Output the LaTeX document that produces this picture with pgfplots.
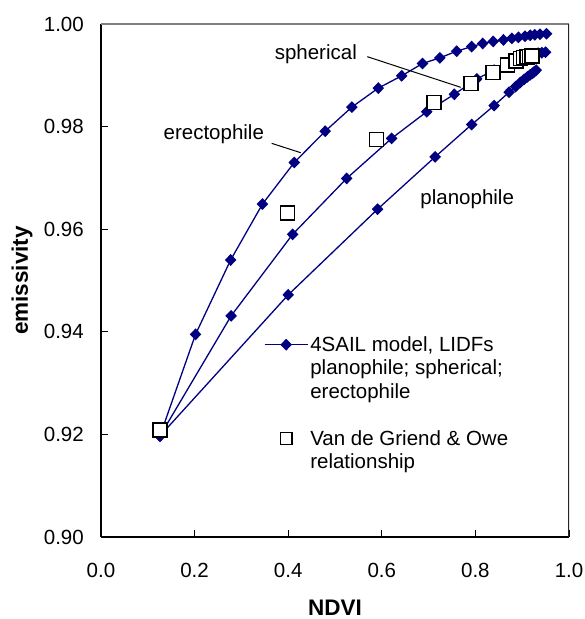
\documentclass[border=0pt]{standalone}
\usepackage{fontspec}
\setmainfont{Liberation Sans}
\usepackage{pgfplots}
\pgfplotsset{compat=1.18}
\definecolor{navy}{RGB}{0,0,128}
\newcommand\fs{\fontsize{20.5}{23.4}\selectfont}
\newcommand\fl{\fontsize{22.5}{27}\selectfont\bfseries}
\pgfplotsset{
  linelegend/.style={legend image code/.code={\draw[mark repeat=2,mark phase=2,##1] plot coordinates {(0pt,0pt) (21.5pt,0pt) (43pt,0pt)};}},
  marklegend/.style={legend image code/.code={\path[draw=none,fill=none] (0pt,0pt) rectangle (43pt,0.1pt); \draw[##1] plot coordinates {(21.5pt,0pt)};}},
  curve/.style={navy, line width=1.3pt, mark=diamond*, mark size=5pt, mark options={xscale=1.3, solid, fill=navy, draw=navy}},
  vdg/.style={only marks, mark=square*, mark size=7pt, mark options={fill=white, draw=black, line width=1.5pt}},
}
\begin{document}
\fs
\begin{tikzpicture}
\begin{axis}[
  scale only axis, width=468pt, height=513pt,
  xmin=0, xmax=1, ymin=0.9, ymax=1.0,
  axis lines*=left, axis line style={-, black, line width=1.3pt},
  xtick={0,0.2,0.4,0.6,0.8,1.0},
  ytick={0.90,0.92,0.94,0.96,0.98,1.00},
  tick align=inside, major tick length=7pt,
  tick style={black, line width=1.3pt},
  /pgf/number format/assume math mode=true,
  xticklabel style={font=\fs, yshift=-18.7pt, /pgf/number format/.cd, fixed, fixed zerofill, precision=1},
  yticklabel style={font=\fs, xshift=-10.2pt, /pgf/number format/.cd, fixed, fixed zerofill, precision=2},
  scaled y ticks=false, scaled x ticks=false,
  xlabel={NDVI}, ylabel={emissivity},
  xlabel style={font=\fl, inner sep=0pt, at={(axis description cs:0.5,0)}, anchor=base, yshift=-78pt},
  ylabel style={font=\fl, inner sep=0pt, at={(axis description cs:0,0.5)}, anchor=base, yshift=73pt},
  legend style={draw=none, fill=none, inner sep=0pt, outer sep=0pt, row sep=0pt,
    font=\fs, at={(axis cs:0.3483,0.93977)}, anchor=north west,
    cells={anchor=west, inner xsep=2pt, inner ysep=0pt},
    /tikz/every even column/.append style={column sep=0pt}},
]
% planophile
\addplot[curve, forget plot] coordinates {
(0.126,0.9197) (0.400,0.9472) (0.591,0.9639) (0.714,0.9741) (0.792,0.9804)
(0.840,0.9841) (0.872,0.9867) (0.886,0.9878) (0.896,0.9886) (0.904,0.9892)
(0.911,0.9897) (0.917,0.9901) (0.922,0.9904) (0.926,0.9907) (0.930,0.9910)};
% spherical
\addplot[curve, forget plot] coordinates {
(0.126,0.9197) (0.278,0.9431) (0.4095,0.9590) (0.525,0.9699) (0.621,0.9777)
(0.696,0.9829) (0.755,0.9863) (0.803,0.9893) (0.840,0.9910) (0.868,0.9922)
(0.888,0.9930) (0.903,0.9935) (0.915,0.9939) (0.925,0.9941) (0.934,0.9943)
(0.942,0.9944) (0.950,0.9945)};
% erectophile
\addplot[curve, forget plot] coordinates {
(0.126,0.9197) (0.202,0.9395) (0.277,0.9540) (0.345,0.9649) (0.413,0.9730)
(0.479,0.9791) (0.536,0.9838) (0.5925,0.9875) (0.6425,0.9899) (0.687,0.9923)
(0.724,0.9934) (0.760,0.9947) (0.792,0.9956) (0.8155,0.9962) (0.838,0.9966)
(0.860,0.9969) (0.878,0.9972) (0.892,0.9974) (0.906,0.9976) (0.917,0.9978)
(0.927,0.9979) (0.938,0.9980) (0.952,0.9981)};
% Van de Griend & Owe
\addplot[vdg, forget plot] coordinates {
(0.126,0.9209) (0.398,0.9632) (0.589,0.9775) (0.712,0.9847) (0.791,0.9884)
(0.838,0.9905) (0.869,0.9920) (0.887,0.9928) (0.896,0.9933) (0.903,0.9935)
(0.910,0.9936) (0.916,0.9937) (0.921,0.9938)};
\addlegendimage{curve, linelegend}
\addlegendentry{\strut 4SAIL model, LIDFs}
\addlegendimage{empty legend}
\addlegendentry{\strut planophile; spherical;}
\addlegendimage{empty legend}
\addlegendentry{\strut erectophile}
\addlegendimage{empty legend}
\addlegendentry{\strut}
\addlegendimage{only marks, mark=square*, mark size=5.8pt, mark options={fill=white, draw=black, line width=1.3pt}, marklegend}
\addlegendentry{\strut Van de Griend \& Owe}
\addlegendimage{empty legend}
\addlegendentry{\strut relationship}
\draw[gray, line width=1.3pt] (rel axis cs:0,1) -- (rel axis cs:1,1);
\draw[black!85, line width=1.3pt] (rel axis cs:1,1) -- (rel axis cs:1,0);
\node[font=\fs, anchor=base] at (axis cs:0.459,0.99312) {spherical};
\node[font=\fs, anchor=base] at (axis cs:0.241,0.97752) {erectophile};
\node[font=\fs, anchor=base] at (axis cs:0.7825,0.96485) {planophile};
\draw[black, line width=1pt] (axis cs:0.569,0.99363) -- (axis cs:0.7686,0.98766);
\draw[black, line width=1pt] (axis cs:0.3647,0.97674) -- (axis cs:0.4267,0.97491);
\end{axis}
\pgfresetboundingbox
\useasboundingbox (-101pt,-82pt) rectangle (484pt,537pt);
\end{tikzpicture}
\end{document}
